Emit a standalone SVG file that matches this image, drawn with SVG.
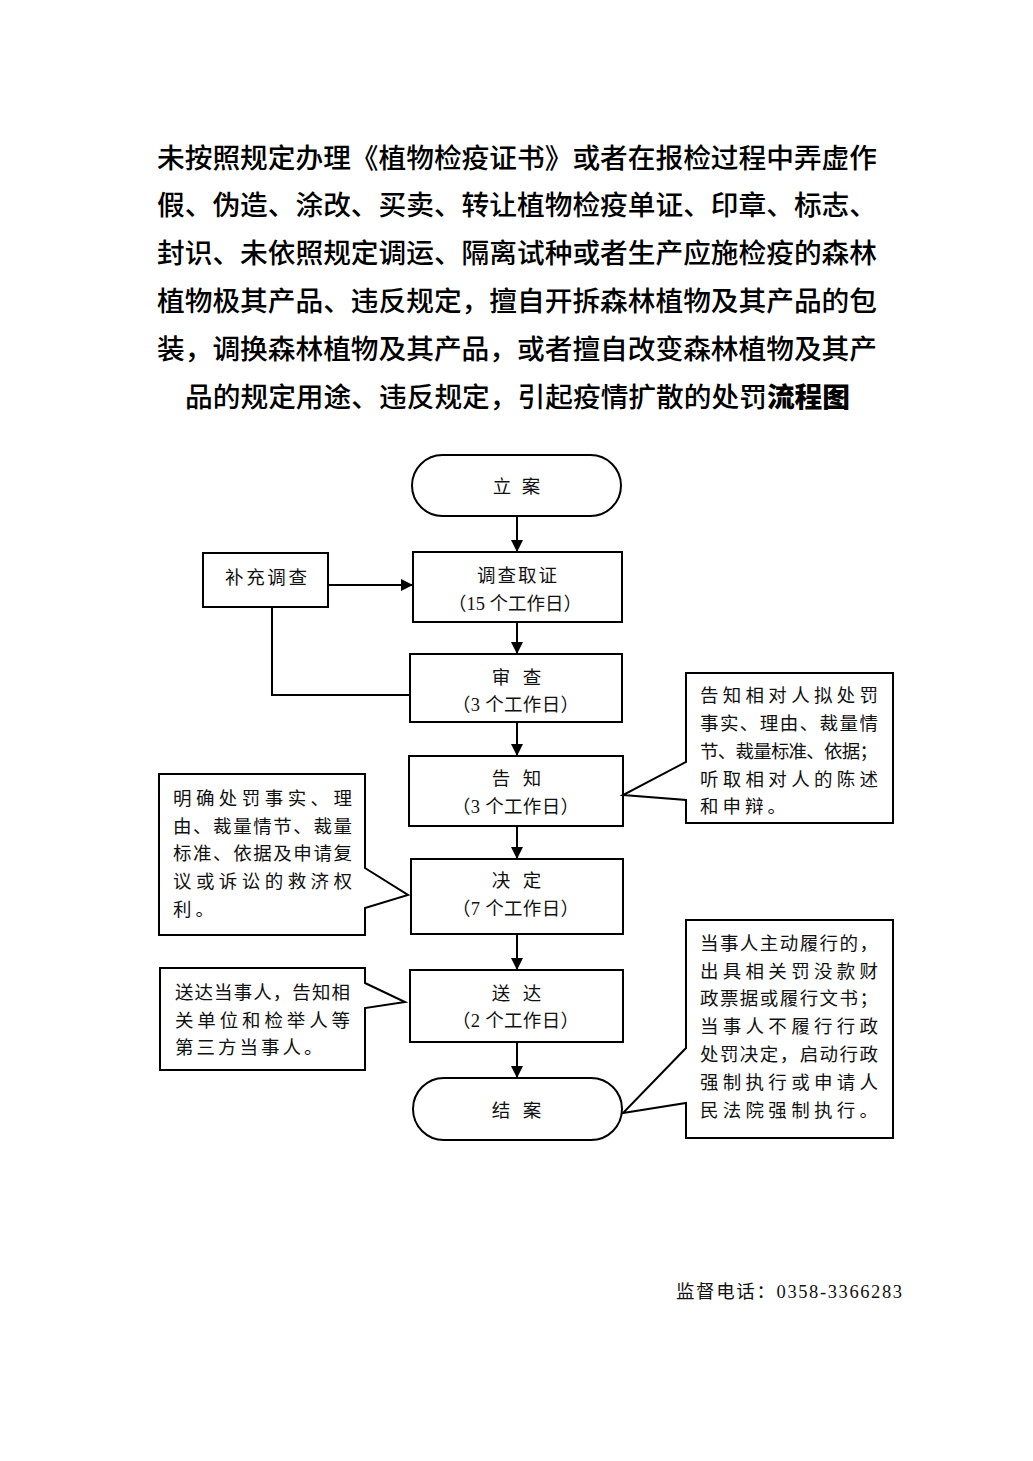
<svg xmlns="http://www.w3.org/2000/svg" width="1033" height="1461" viewBox="0 0 1033 1461">
<style>
.title{font-family:"Noto Sans CJK SC","Noto Sans",sans-serif;font-size:27.7px;font-weight:500;fill:#000}
.t{font-family:"Liberation Serif","Noto Sans CJK SC",serif;font-size:18.5px;fill:#111}
.box{fill:#fff;stroke:#000;stroke-width:2}
.ln{fill:none;stroke:#000;stroke-width:2}
</style>
<defs>
<marker id="ah" markerUnits="userSpaceOnUse" markerWidth="12" markerHeight="12" viewBox="0 0 12 12" refX="12" refY="6" orient="auto">
<path d="M0,0 L12,6 L0,12 Z" fill="#000"/>
</marker>
</defs>
<rect width="1033" height="1461" fill="#fff"/>
<g id="title">
<text class="title" x="157" y="168" textLength="720" lengthAdjust="spacing">未按照规定办理《植物检疫证书》或者在报检过程中弄虚作</text>
<text class="title" x="157" y="215" textLength="720" lengthAdjust="spacing">假、伪造、涂改、买卖、转让植物检疫单证、印章、标志、</text>
<text class="title" x="157" y="263" textLength="720" lengthAdjust="spacing">封识、未依照规定调运、隔离试种或者生产应施检疫的森林</text>
<text class="title" x="157" y="311" textLength="720" lengthAdjust="spacing">植物极其产品、违反规定，擅自开拆森林植物及其产品的包</text>
<text class="title" x="157" y="359" textLength="720" lengthAdjust="spacing">装，调换森林植物及其产品，或者擅自改变森林植物及其产</text>
<text class="title" x="185" y="407" textLength="665" lengthAdjust="spacing">品的规定用途、违反规定，引起疫情扩散的处罚<tspan font-weight="900">流程图</tspan></text>
</g>
<g id="connectors">
<line class="ln" x1="517" y1="516" x2="517" y2="552" marker-end="url(#ah)"/>
<line class="ln" x1="328" y1="585" x2="413" y2="585" marker-end="url(#ah)"/>
<polyline class="ln" points="272,607 272,695 410,695"/>
<line class="ln" x1="517" y1="622" x2="517" y2="654" marker-end="url(#ah)"/>
<line class="ln" x1="517" y1="722" x2="517" y2="756" marker-end="url(#ah)"/>
<line class="ln" x1="517" y1="826" x2="517" y2="859" marker-end="url(#ah)"/>
<line class="ln" x1="517" y1="934" x2="517" y2="970" marker-end="url(#ah)"/>
<line class="ln" x1="517" y1="1042" x2="517" y2="1078" marker-end="url(#ah)"/>
</g>
<g id="n-lian">
<rect class="box" x="412" y="455" width="209" height="61" rx="30.5"/>
<text class="t" x="502 531" y="493" text-anchor="middle">立案</text>
</g>
<g id="n-buchong">
<rect class="box" x="203" y="553" width="125" height="54"/>
<text class="t" x="225" y="584" textLength="82" lengthAdjust="spacing">补充调查</text>
</g>
<g id="n-diaocha">
<rect class="box" x="413" y="552" width="209" height="70"/>
<text class="t" x="477" y="582" textLength="80" lengthAdjust="spacing">调查取证</text>
<text class="t" x="448" y="610" textLength="134" lengthAdjust="spacing">（15 个工作日）</text>
</g>
<g id="n-shencha">
<rect class="box" x="410" y="654" width="212" height="68"/>
<text class="t" x="501 532" y="684" text-anchor="middle">审查</text>
<text class="t" x="452" y="711" textLength="127" lengthAdjust="spacing">（3 个工作日）</text>
</g>
<g id="n-gaozhi">
<rect class="box" x="409" y="756" width="214" height="70"/>
<text class="t" x="501 532" y="785" text-anchor="middle">告知</text>
<text class="t" x="452" y="813" textLength="127" lengthAdjust="spacing">（3 个工作日）</text>
</g>
<g id="n-jueding">
<rect class="box" x="411" y="859" width="212" height="75"/>
<text class="t" x="501 532" y="887" text-anchor="middle">决定</text>
<text class="t" x="452" y="915" textLength="127" lengthAdjust="spacing">（7 个工作日）</text>
</g>
<g id="n-songda">
<rect class="box" x="410" y="970" width="213" height="72"/>
<text class="t" x="501 532" y="1000" text-anchor="middle">送达</text>
<text class="t" x="452" y="1027" textLength="127" lengthAdjust="spacing">（2 个工作日）</text>
</g>
<g id="n-jiean">
<rect class="box" x="413" y="1078" width="209" height="62" rx="31"/>
<text class="t" x="501 532" y="1117" text-anchor="middle">结案</text>
</g>
<g id="c-gaozhi">
<path class="box" d="M686,673 H893 V823 H686 V800 L623,795 L686,762 Z"/>
<text class="t" x="700" y="702" textLength="178" lengthAdjust="spacing">告知相对人拟处罚</text>
<text class="t" x="700" y="730" textLength="178" lengthAdjust="spacing">事实、理由、裁量情</text>
<text class="t" x="700" y="758" textLength="178" lengthAdjust="spacing">节、裁量标准、依据；</text>
<text class="t" x="700" y="786" textLength="178" lengthAdjust="spacing">听取相对人的陈述</text>
<text class="t" x="700" y="813" letter-spacing="4">和申辩。</text>
</g>
<g id="c-jueding">
<path class="box" d="M159,774 H365 V868 L408,895 L365,908 V935 H159 Z"/>
<text class="t" x="173" y="805" textLength="179" lengthAdjust="spacing">明确处罚事实、理</text>
<text class="t" x="173" y="833" textLength="179" lengthAdjust="spacing">由、裁量情节、裁量</text>
<text class="t" x="173" y="860" textLength="179" lengthAdjust="spacing">标准、依据及申请复</text>
<text class="t" x="173" y="888" textLength="179" lengthAdjust="spacing">议或诉讼的救济权</text>
<text class="t" x="173" y="916" letter-spacing="4">利。</text>
</g>
<g id="c-songda">
<path class="box" d="M160,968 H365 V983 L405,1002 L365,1008 V1070 H160 Z"/>
<text class="t" x="175" y="999" textLength="175" lengthAdjust="spacing">送达当事人，告知相</text>
<text class="t" x="175" y="1027" textLength="175" lengthAdjust="spacing">关单位和检举人等</text>
<text class="t" x="175" y="1054" letter-spacing="3">第三方当事人。</text>
</g>
<g id="c-jiean">
<path class="box" d="M686,920 H893 V1138 H686 V1103 L623,1113 L686,1048 Z"/>
<text class="t" x="700" y="950" textLength="178" lengthAdjust="spacing">当事人主动履行的，</text>
<text class="t" x="700" y="978" textLength="178" lengthAdjust="spacing">出具相关罚没款财</text>
<text class="t" x="700" y="1005" textLength="178" lengthAdjust="spacing">政票据或履行文书；</text>
<text class="t" x="700" y="1033" textLength="178" lengthAdjust="spacing">当事人不履行行政</text>
<text class="t" x="700" y="1061" textLength="178" lengthAdjust="spacing">处罚决定，启动行政</text>
<text class="t" x="700" y="1089" textLength="178" lengthAdjust="spacing">强制执行或申请人</text>
<text class="t" x="700" y="1117" textLength="178" lengthAdjust="spacing">民法院强制执行。</text>
</g>
<g id="phone">
<text class="t" x="676" y="1298" font-size="20" textLength="226" lengthAdjust="spacing">监督电话：0358-3366283</text>
</g>
</svg>
